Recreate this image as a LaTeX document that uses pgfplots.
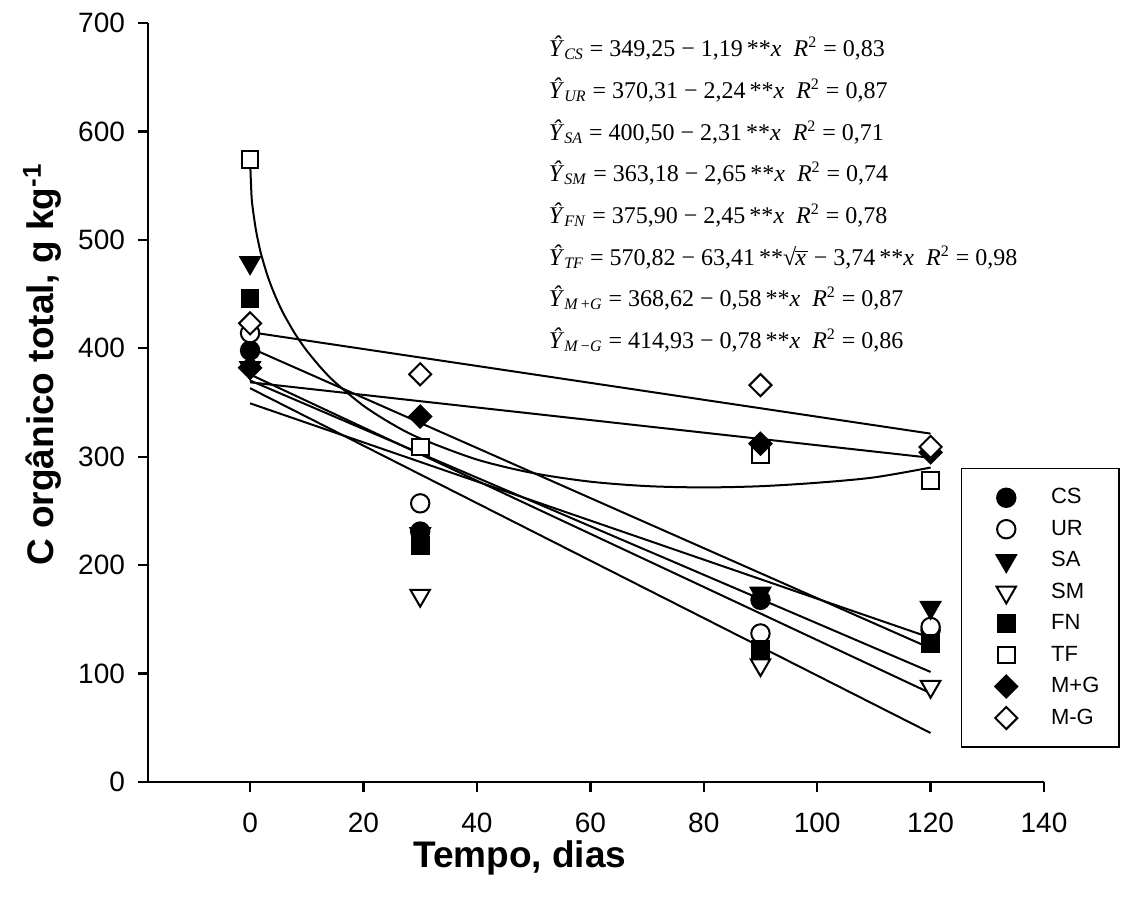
\documentclass[border=0pt]{standalone}
\usepackage{fontspec}
\setmainfont{Liberation Sans}
\newfontfamily\eqfont{Liberation Serif}
\usepackage{pgfplots}
\pgfplotsset{compat=1.18}

\begin{document}
\begin{tikzpicture}
\begin{axis}[
    scale only axis, width=448pt, height=379.5pt,
    xmin=-18, xmax=140, ymin=0, ymax=700,
    axis x line=bottom, axis y line=left,
    axis line style={-, line width=1.2pt},
    xtick={0,20,...,140}, ytick={0,100,...,700},
    tick align=outside, major tick length=5pt,
    tick style={line width=1.2pt, black},
    ticklabel style={font=\fontsize{14}{16}\selectfont},
    /pgf/number format/assume math mode=true,
    xticklabel style={yshift=-7pt}, yticklabel style={xshift=-3pt},
    xlabel={Tempo, dias},
    ylabel={C orgânico total, g kg\textsuperscript{-1}},
    label style={font=\bfseries\fontsize{18.5}{21}\selectfont},
    xlabel style={at={(axis description cs:0.415,-0.1)}, anchor=center},
    ylabel style={at={(axis description cs:-0.118,0.55)}, anchor=center},
    clip=false,
    legend style={at={(axis description cs:0.907,0.414)}, anchor=north west,
        draw=black, line width=0.8pt, inner xsep=4pt, inner ysep=9pt,
        font=\fontsize{11}{12}\selectfont, row sep=4.6pt,
        nodes={inner ysep=1pt}},
    legend cell align=left,
    legend image code/.code={\draw[#1] plot coordinates {(0pt,0pt)}; \path (-18pt,0pt) (20pt,0pt);},
]
% regression lines
\addplot[black, line width=1pt, forget plot] coordinates {(0,349.25) (120,133)};
\addplot[black, line width=1pt, forget plot] coordinates {(0,370.31) (120,101.5)};
\addplot[black, line width=1pt, forget plot] coordinates {(0,400.5) (120,123.3)};
\addplot[black, line width=1pt, forget plot] coordinates {(0,363.18) (120,45.2)};
\addplot[black, line width=1pt, forget plot] coordinates {(0,375.9) (120,81.9)};
\addplot[black, line width=1pt, forget plot] coordinates {(0,368.62) (120,299)};
\addplot[black, line width=1pt, forget plot] coordinates {(0,414.93) (120,321.3)};
\addplot[black, line width=1pt, forget plot, smooth] coordinates {
    (0,574) (0.25,541.1) (0.5,528.0) (1,510.1) (1.5,496.8) (2,485.8)
    (3,468.1) (4,453.8) (5,441.6) (6,430.9) (8,412.8) (10,397.8)
    (12.5,382.0) (15,368.6) (20,347.0) (25,330.3) (30,316.9) (40,297.4)
    (50,284.8) (60,277.0) (70,272.9) (80,271.7) (90,272.8) (100,276)
    (110,280.9) (120,290)
};
% observed values
\addplot[only marks, mark=*, mark size=4.6pt, mark options={fill=black, draw=black, line width=1pt}]
    coordinates {(0,398) (30,231) (90,168) (120,140)};
\addlegendentry{\makebox[28pt][l]{CS}}
\addplot[only marks, mark=*, mark size=4.6pt, mark options={fill=white, draw=black, line width=1pt}]
    coordinates {(0,414) (30,257) (90,137) (120,143)};
\addlegendentry{\makebox[28pt][l]{UR}}
\addplot[only marks, mark=triangle*, mark size=5.6pt, mark options={rotate=180, fill=black, draw=black, line width=1pt}]
    coordinates {(0,479) (30,229) (90,174) (120,161)};
\addlegendentry{\makebox[28pt][l]{SA}}
\addplot[only marks, mark=triangle*, mark size=5.6pt, mark options={rotate=180, fill=white, draw=black, line width=1pt}]
    coordinates {(0,382) (30,172) (90,108) (120,88)};
\addlegendentry{\makebox[28pt][l]{SM}}
\addplot[only marks, mark=square*, mark size=4.2pt, mark options={fill=black, draw=black, line width=1pt}]
    coordinates {(0,446) (30,218) (90,122) (120,128)};
\addlegendentry{\makebox[28pt][l]{FN}}
\addplot[only marks, mark=square*, mark size=4.2pt, mark options={fill=white, draw=black, line width=1pt}]
    coordinates {(0,574) (30,309) (90,302) (120,278)};
\addlegendentry{\makebox[28pt][l]{TF}}
\addplot[only marks, mark=square*, mark size=3.9pt, mark options={rotate=45, fill=black, draw=black, line width=1pt}]
    coordinates {(0,382) (30,337) (90,312) (120,304)};
\addlegendentry{\makebox[28pt][l]{M+G}}
\addplot[only marks, mark=square*, mark size=3.9pt, mark options={rotate=45, fill=white, draw=black, line width=1pt}]
    coordinates {(0,423) (30,376) (90,366) (120,309)};
\addlegendentry{\makebox[28pt][l]{M-G}}

% fitted equations
\begin{scope}[every node/.style={anchor=west, inner sep=0pt, font=\eqfont\fontsize{12}{14}\selectfont}]
\node at (axis cs:52.6,677) {\textit{Ŷ}\textsubscript{\textit{CS}} = 349,25 − 1,19\,**\textit{x}\ \ \textit{R}\textsuperscript{2} = 0,83};
\node at (axis cs:52.6,638.4) {\textit{Ŷ}\textsubscript{\textit{UR}} = 370,31 − 2,24\,**\textit{x}\ \ \textit{R}\textsuperscript{2} = 0,87};
\node at (axis cs:52.6,599.6) {\textit{Ŷ}\textsubscript{\textit{SA}} = 400,50 − 2,31\,**\textit{x}\ \ \textit{R}\textsuperscript{2} = 0,71};
\node at (axis cs:52.6,561.8) {\textit{Ŷ}\textsubscript{\textit{SM}} = 363,18 − 2,65\,**\textit{x}\ \ \textit{R}\textsuperscript{2} = 0,74};
\node at (axis cs:52.6,523) {\textit{Ŷ}\textsubscript{\textit{FN}} = 375,90 − 2,45\,**\textit{x}\ \ \textit{R}\textsuperscript{2} = 0,78};
\node at (axis cs:52.6,484.3) {\textit{Ŷ}\textsubscript{\textit{TF}} = 570,82 − 63,41\,**√\kern-0.5pt$\overline{\mbox{\textit{x}\kern1pt}}$ − 3,74\,**\textit{x}\ \ \textit{R}\textsuperscript{2} = 0,98};
\node at (axis cs:52.6,446.5) {\textit{Ŷ}\textsubscript{\textit{M}\,+\textit{G}} = 368,62 − 0,58\,**\textit{x}\ \ \textit{R}\textsuperscript{2} = 0,87};
\node at (axis cs:52.6,407.7) {\textit{Ŷ}\textsubscript{\textit{M}\,−\textit{G}} = 414,93 − 0,78\,**\textit{x}\ \ \textit{R}\textsuperscript{2} = 0,86};
\end{scope}
\end{axis}
\pgfresetboundingbox
\path[use as bounding box] (-74pt,-60.5pt) rectangle (487pt,391pt);
\end{tikzpicture}
\end{document}
